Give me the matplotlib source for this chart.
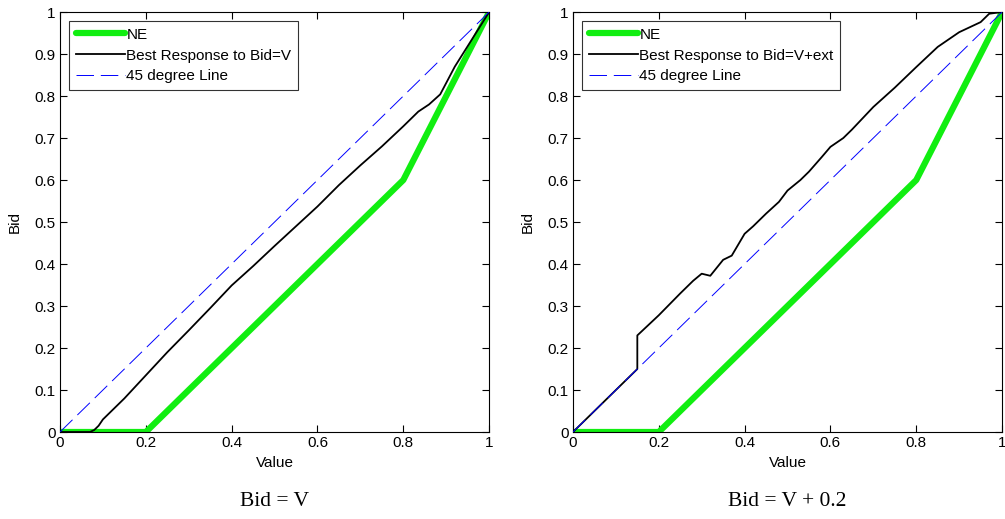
import numpy as np
import matplotlib
matplotlib.use("Agg")
import matplotlib.pyplot as plt

plt.rcParams['font.family'] = ['Liberation Sans', 'DejaVu Sans']

# NE curve (same in both panels)
ne_x = [0, 0.2, 0.8, 1.0]
ne_y = [0, 0.0, 0.6, 1.0]

# best response, left panel (Bid = V)
br1_x = [0, 0.07, 0.08, 0.09, 0.1, 0.15, 0.2, 0.25, 0.3, 0.35, 0.4, 0.45, 0.5,
         0.55, 0.6, 0.65, 0.7, 0.75, 0.8, 0.835, 0.86, 0.886, 0.92, 0.96, 1.0]
br1_y = [0, 0.0, 0.005, 0.015, 0.03, 0.08, 0.135, 0.19, 0.242, 0.295, 0.349,
         0.395, 0.443, 0.49, 0.537, 0.588, 0.635, 0.68, 0.728, 0.763, 0.78,
         0.804, 0.87, 0.935, 1.0]

# best response, right panel (Bid = V + 0.2)
br2_x = [0, 0.05, 0.1, 0.15, 0.15, 0.2, 0.25, 0.28, 0.3, 0.32, 0.35, 0.37,
         0.4, 0.42, 0.45, 0.48, 0.5, 0.53, 0.55, 0.58, 0.6, 0.63, 0.65, 0.7,
         0.75, 0.8, 0.85, 0.9, 0.95, 0.97, 1.0]
br2_y = [0, 0.05, 0.1, 0.15, 0.23, 0.278, 0.33, 0.36, 0.377, 0.372, 0.41, 0.42,
         0.472, 0.49, 0.52, 0.548, 0.575, 0.60, 0.62, 0.655, 0.679, 0.70, 0.72,
         0.774, 0.82, 0.869, 0.917, 0.952, 0.976, 0.996, 1.0]

diag = [0, 1]

panels = [
    (br1_x, br1_y, 'Best Response to Bid=V', 'Bid = V', 0.0597),
    (br2_x, br2_y, 'Best Response to Bid=V+ext', 'Bid = V + 0.2', 0.5701),
]

fig = plt.figure(figsize=(10.05, 5.19), dpi=100)

for bx, by, lab, title, left in panels:
    ax = fig.add_axes([left, 0.1676, 0.4270, 0.8092])
    ax.plot(ne_x, ne_y, color='#11ee11', lw=4.5, solid_capstyle='round',
            solid_joinstyle='round', label='NE', zorder=2)
    ax.plot(bx, by, color='black', lw=1.3, label=lab, zorder=3)
    ax.plot(diag, diag, color='blue', lw=0.7, dashes=(18, 7),
            label='45 degree Line', zorder=4)
    ax.set_xlim(0, 1)
    ax.set_ylim(0, 1)
    ax.set_xticks([0, 0.2, 0.4, 0.6, 0.8, 1])
    ax.set_xticklabels(['0', '0.2', '0.4', '0.6', '0.8', '1'])
    ax.set_yticks(np.arange(11) / 10)
    ax.set_yticklabels(['0'] + ['0.%d' % i for i in range(1, 10)] + ['1'])
    ax.tick_params(direction='in', top=True, right=True, labelsize=11,
                   length=5, width=0.8, pad=3)
    for s in ax.spines.values():
        s.set_linewidth(0.8)
    ax.set_xlabel('Value', fontsize=11, labelpad=4)
    ax.set_ylabel('Bid', fontsize=11, labelpad=9)
    leg = ax.legend(loc='upper left', bbox_to_anchor=(0.021, 0.979),
                    borderaxespad=0, fancybox=False, fontsize=11,
                    handlelength=3.2, handletextpad=0.1, labelspacing=0.45,
                    borderpad=0.45)
    leg.get_frame().set_edgecolor('black')
    leg.get_frame().set_linewidth(0.8)
    ax.text(0.5, -0.165, title, transform=ax.transAxes, ha='center',
            va='center', fontsize=15.5, family='Liberation Serif')

fig.savefig('out.png', dpi=100)
